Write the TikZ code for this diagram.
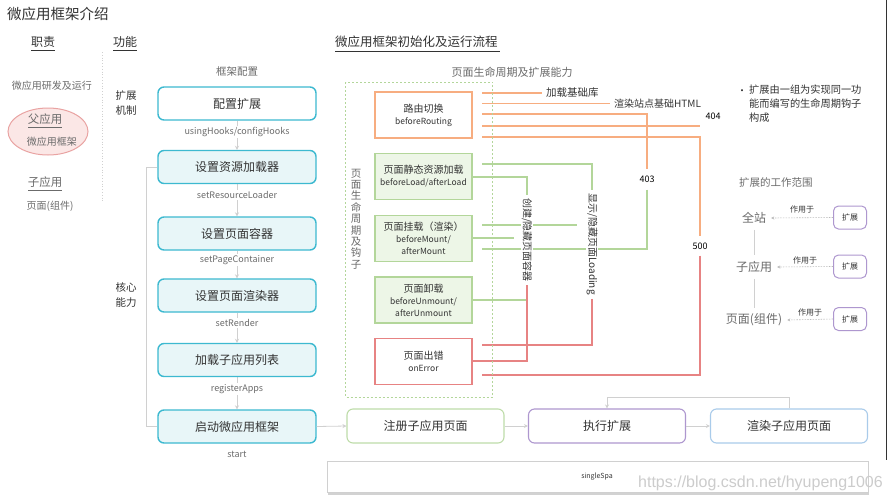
\documentclass[tikz,border=0pt]{standalone}
\usepackage{fontspec}
\setmainfont{Noto Sans CJK SC}
\newfontfamily\wmfont{Liberation Sans}
\usetikzlibrary{arrows.meta,shadows}
\pgfdeclarelayer{bg}
\pgfsetlayers{bg,main}
\definecolor{cyanB}{HTML}{3DB9D0}
\definecolor{cyanF}{HTML}{E8F6F8}
\definecolor{orL}{HTML}{F7AD80}
\definecolor{grL}{HTML}{B3D69A}
\definecolor{grF}{HTML}{EDF6E7}
\definecolor{rdL}{HTML}{E78383}
\definecolor{puL}{HTML}{AE97CF}
\definecolor{blL}{HTML}{A9CBEA}
\definecolor{pkF}{HTML}{FBE7E6}
\definecolor{pkL}{HTML}{E9A3A2}
\definecolor{txD}{HTML}{333333}
\definecolor{txG}{HTML}{6B6B6B}
\definecolor{lnG}{HTML}{D0D0D0}
\newcommand{\fsz}[2]{\fontsize{#1}{#2}\selectfont}
\begin{document}
\begin{tikzpicture}[x=1pt,y=-1pt,
  every node/.style={inner sep=0pt,text=txD},
  mainbox/.style={draw=cyanB,line width=1.4pt,rounded corners=6pt,minimum width=158pt,minimum height=33pt,font=\fsz{12}{14},fill=cyanF},
  apicap/.style={font=\fsz{9}{10},text=txG,fill=white,inner sep=1pt},
  arr/.style={draw=lnG,line width=0.8pt,-{Stealth[length=4pt,width=4pt]}},
  lc/.style={draw,line width=1.2pt,minimum width=97pt,minimum height=46pt,align=center,font=\fsz{10}{13}},
  hk/.style={line width=1.4pt},
  vtxt/.style={rotate=-90,font=\fsz{10}{12},fill=white,inner ysep=1pt},
  flow/.style={draw,line width=1.1pt,rounded corners=6pt,minimum width=157pt,minimum height=34pt,font=\fsz{12}{14},fill=white},
  extb/.style={draw=puL,line width=1pt,rounded corners=5pt,minimum width=33pt,minimum height=23pt,font=\fsz{8}{9}},
  dsh/.style={draw=lnG!90!black,line width=0.6pt,dash pattern=on 1.5pt off 1.2pt,-{Stealth[length=3pt,width=3pt]}},
  uline/.style={draw=txD,line width=0.8pt}
]
\useasboundingbox (0,0) rectangle (891,501);
\begin{pgfonlayer}{bg}
\fill[white] (0,0) rectangle (891,501);
\end{pgfonlayer}
\draw[black!80,line width=1pt] (886.5,0) -- (886.5,460);

% ---- left column ----
\node[anchor=west,font=\fsz{14.5}{16}] (title) at (7,14) {微应用框架介绍};
\node[font=\fsz{12}{14}] (zz) at (43,42) {职责};
\draw[uline] (31,50.5) -- (55,50.5);
\node[font=\fsz{12}{14}] (gn) at (125,42) {功能};
\draw[uline] (113,50.5) -- (137,50.5);
\node[anchor=west,font=\fsz{12.5}{14}] (lc0) at (335,42) {微应用框架初始化及运行流程};
\draw[uline] (335,51) -- (500,51);
\draw[lnG,dotted,line width=0.8pt] (102,52) -- (102,202);

\node[font=\fsz{10}{12},text=txG] (yf) at (52,86) {微应用研发及运行};
\draw[pkL,fill=pkF,line width=1pt] (48,131.5) ellipse [x radius=40pt,y radius=23.5pt];
\node[font=\fsz{11.5}{13},text=txG] (fyy) at (45,119) {父应用};
\draw[uline,draw=txG] (28,127) -- (62,127);
\node[font=\fsz{10}{12},text=txG] (fkj) at (52,142) {微应用框架};
\node[font=\fsz{11.5}{13},text=txG] (zyyl) at (45,182) {子应用};
\draw[uline,draw=txG] (28,190) -- (62,190);
\node[font=\fsz{10}{12},text=txG] (ymzj) at (50,206) {页面(组件)};

\node[align=center,font=\fsz{10.5}{15}] (kzjz) at (126,103) {扩展\\机制};
\node[align=center,font=\fsz{10.5}{15}] (hxnl) at (126,295) {核心\\能力};

% ---- framework config column ----
\node[font=\fsz{10.5}{12},text=txG] (kjpz) at (237,72) {框架配置};
\node[mainbox,fill=white] (b1) at (237,103.5) {配置扩展};
\node[mainbox] (b2) at (237,167) {设置资源加载器};
\node[mainbox] (b3) at (237,233.5) {设置页面容器};
\node[mainbox] (b4) at (237,295.5) {设置页面渲染器};
\node[mainbox] (b5) at (237,360) {加载子应用列表};
\node[mainbox] (b6) at (237,426.5) {启动微应用框架};
\node[apicap] (c1) at (237,132) {usingHooks/configHooks};
\node[apicap] (c2) at (237,195) {setResourceLoader};
\node[apicap] (c3) at (237,260) {setPageContainer};
\node[apicap] (c4) at (237,323) {setRender};
\node[apicap] (c5) at (237,389) {registerApps};
\node[apicap] (c6) at (237,454) {start};
\begin{pgfonlayer}{bg}
\draw[arr] (b1) -- (b2);
\draw[arr] (b2) -- (b3);
\draw[arr] (b3) -- (b4);
\draw[arr] (b4) -- (b5);
\draw[arr] (b5) -- (b6);
\end{pgfonlayer}
\draw[lnG,line width=0.8pt] (b2.west) -- ++(-11,0) |- (b6.west);

% ---- lifecycle ----
\node[font=\fsz{11}{13},text=txG] (lct) at (512,72) {页面生命周期及扩展能力};
\draw[grL,line width=0.8pt,dash pattern=on 2pt off 2pt] (345.5,82) rectangle (492.5,397);
\node[align=center,font=\fsz{10.5}{11.4},text=txG] (vlc) at (356,219) {页\\面\\生\\命\\周\\期\\及\\钩\\子};

\node[lc,draw=orL,fill=white] (lr) at (423.5,115) {路由切换\\[-1pt]{\fsz{8.5}{12}beforeRouting}};
\node[lc,draw=grL,fill=grF] (ll) at (423.5,176.5) {页面静态资源加载\\[-1pt]{\fsz{8.5}{12}beforeLoad/afterLoad}};
\node[lc,draw=grL,fill=grF,font=\fsz{10}{12}] (lm) at (423.5,238.5) {页面挂载（渲染）\\{\fsz{8.5}{11.5}beforeMount/}\\{\fsz{8.5}{11.5}afterMount}};
\node[lc,draw=grL,fill=grF,font=\fsz{10}{12}] (lu) at (423.5,300) {页面卸载\\{\fsz{8.5}{11.5}beforeUnmount/}\\{\fsz{8.5}{11.5}afterUnmount}};
\node[lc,draw=rdL,fill=white] (le) at (423.5,361.5) {页面出错\\[-1pt]{\fsz{8.5}{12}onError}};

\node[anchor=west,font=\fsz{10.5}{12}] (jz) at (546,93) {加载基础库};
\node[anchor=west,font=\fsz{10}{12}] (xr) at (614,103.5) {渲染站点基础HTML};
\node[font=\fsz{9}{10},text=black] (t403) at (647,179) {403};
\node[font=\fsz{9}{10},text=black] (t404) at (713,116) {404};
\node[font=\fsz{9}{10},text=black] (t500) at (700,246) {500};
\node[vtxt] (cj) at (527,240) {创建/隐藏页面容器};
\node[vtxt] (xs) at (592,244) {显示/隐藏页面Loading};

\begin{pgfonlayer}{bg}
\draw[orL,hk] (482,93) -- ([xshift=-4pt]jz.west);
\draw[orL,hk] (482,103.5) -- ([xshift=-4pt]xr.west);
\draw[orL,hk] (482,114) -- (647,114) -- ([yshift=6pt]t403.north);
\draw[orL,hk] (482,126) -- (700,126);
\draw[orL,hk] (482,137) -- (700,137) -- ([yshift=6pt]t500.north);
\draw[rdL,hk] ([yshift=-6pt]t500.south) -- (700,375) -- (482,375);
\draw[grL,hk] ([yshift=-7pt]t403.south) -- (647,249) -- (482,249);
\draw[grL,hk] (482,164) -- (592,164) -- ([yshift=3pt]xs.west);
\draw[grL,hk] (ll.east |- 0,177) -- (527,177) -- ([yshift=3pt]cj.west);
\draw[grL,hk] (482,225) -- ([xshift=-15pt]xs.center |- 0,225);
\draw[grL,hk] (lm.east |- 0,238) -- ([xshift=-13pt]cj.center |- 0,238);
\draw[grL,hk] (lu.east) -- (527,300);
\draw[rdL,hk] ([yshift=-3pt]cj.east) -- (527,361) -- (le.east |- 0,361);
\draw[rdL,hk] ([yshift=-4pt]xs.east) -- (592,345) -- (482,345);
\end{pgfonlayer}

% ---- right: notes and scope ----
\node[font=\fsz{10}{12}] (bul) at (742,92) {•};
\node[anchor=north west,align=left,font=\fsz{10.2}{14}] (note) at (749,85) {扩展由一组为实现同一功\\能而编写的生命周期钩子\\构成};
\node[anchor=west,font=\fsz{10.5}{12},text=txG] (scope) at (739,183) {扩展的工作范围};
\node[font=\fsz{12}{14},text=txG] (qz) at (754,218) {全站};
\node[font=\fsz{12}{14},text=txG] (zy) at (754,267) {子应用};
\node[font=\fsz{12}{14},text=txG] (ym) at (754,320) {页面(组件)};
\draw[lnG,line width=0.8pt,shorten <=6pt,shorten >=6pt] (qz) -- (zy);
\draw[lnG,line width=0.8pt,shorten <=6pt,shorten >=6pt] (zy) -- (ym);
\node[extb] (e1) at (850,217.5) {扩展};
\node[extb] (e2) at (850,266.5) {扩展};
\node[extb] (e3) at (850,319) {扩展};
\draw[dsh] (e1.west) -- ([xshift=5pt]qz.east);
\draw[dsh] (e2.west) -- ([xshift=5pt]zy.east);
\draw[dsh] (e3.west) -- ([xshift=5pt]ym.east);
\node[font=\fsz{8}{9}] (w1) at (802,209) {作用于};
\node[font=\fsz{8}{9}] (w2) at (805,260) {作用于};
\node[font=\fsz{8}{9}] (w3) at (810,312) {作用于};

% ---- bottom flow ----
\node[flow,draw=grL!85] (reg) at (425.5,426) {注册子应用页面};
\node[flow,draw=puL] (exe) at (607,426) {执行扩展};
\node[flow,draw=blL] (ren) at (789,426) {渲染子应用页面};
\draw[arr] (b6.east) -- (reg.west);
\draw[arr] (reg) -- (exe);
\draw[arr] (exe) -- (ren);
\draw[arr] (ren.north) -- ++(0,-11) -| (exe.north);

\node[draw=lnG,fill=white,line width=0.8pt,minimum width=541pt,minimum height=31pt,
  drop shadow={shadow xshift=1pt,shadow yshift=-2.5pt,opacity=0.35}] (ss) at (597.5,476.5) {};
\node[font=\fsz{7}{8}] (sst) at (597,476.5) {singleSpa};
\node[anchor=east,font=\wmfont\fsz{16}{18},text=black!20] (wm) at (883,483) {https://blog.csdn.net/hyupeng1006};
\end{tikzpicture}
\end{document}
